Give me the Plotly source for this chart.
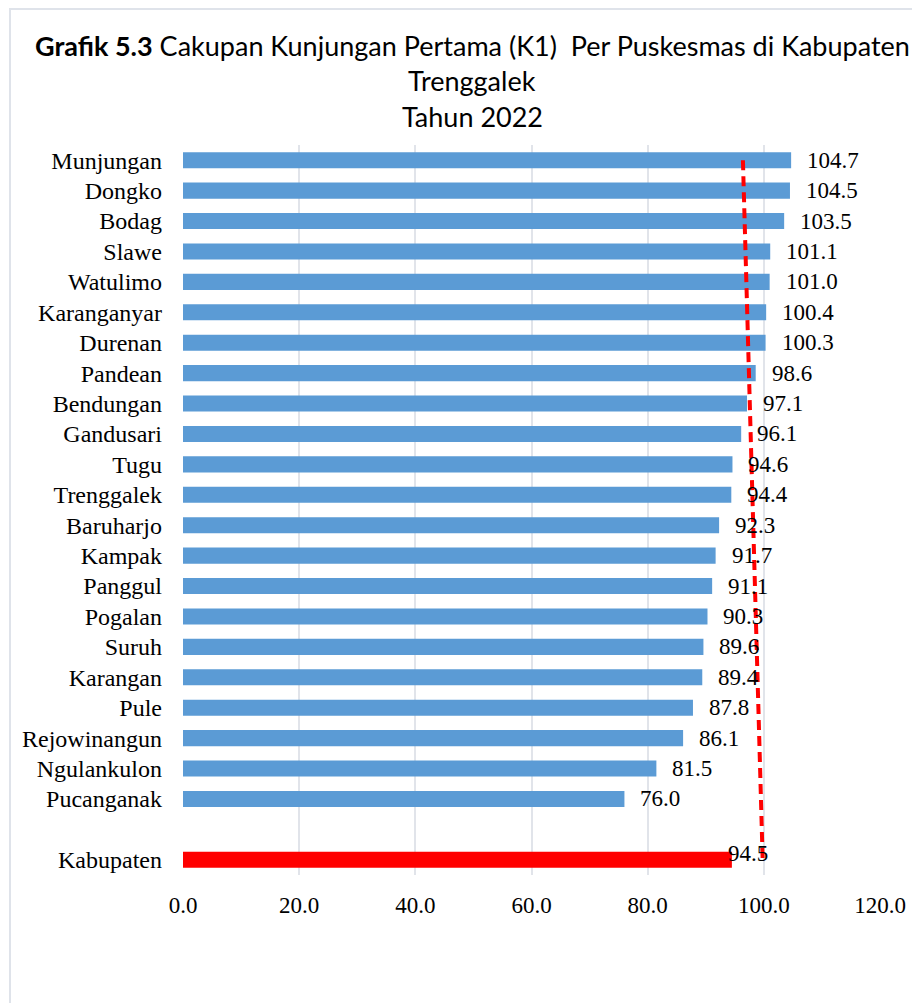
import plotly.graph_objects as go

puskesmas = ["Munjungan", "Dongko", "Bodag", "Slawe", "Watulimo", "Karanganyar",
             "Durenan", "Pandean", "Bendungan", "Gandusari", "Tugu", "Trenggalek",
             "Baruharjo", "Kampak", "Panggul", "Pogalan", "Suruh", "Karangan",
             "Pule", "Rejowinangun", "Ngulankulon", "Pucanganak"]
k1_values = [104.7, 104.5, 103.5, 101.1, 101.0, 100.4, 100.3, 98.6, 97.1, 96.1,
             94.6, 94.4, 92.3, 91.7, 91.1, 90.3, 89.6, 89.4, 87.8, 86.1, 81.5, 76.0]
kab_label = "Kabupaten"
kab_value = 94.5
gap_label = " "
ref_line_x = [96.4, 99.8]
x_ticks = [0, 20, 40, 60, 80, 100, 120]

cats = puskesmas + [gap_label, kab_label]
vals = k1_values + [None, kab_value]
colors = ["#5b9bd5"] * len(k1_values) + ["rgba(0,0,0,0)", "#ff0000"]

SERIF = "Liberation Serif, Times New Roman, serif"
OFF = 8  # page body margin
W, H = 920, 1003
L, T = 183 - OFF, 145 - OFF
pw, ph = 697, 730
R, B = W - L - pw, H - T - ph

fig = go.Figure()
fig.add_trace(go.Bar(
    y=cats, x=vals, orientation="h",
    marker=dict(color=colors, line=dict(width=0)),
    width=0.53, showlegend=False, hoverinfo="x+y",
))
fig.add_trace(go.Scatter(
    x=ref_line_x, y=[puskesmas[0], kab_label], mode="lines",
    line=dict(color="#ff0000", width=4, dash="10px,6px"),
    showlegend=False, hoverinfo="skip",
))

annotations = []
for c, v in zip(puskesmas, k1_values):
    annotations.append(dict(x=v, y=c, xref="x", yref="y", text=f"{v:.1f}",
                            showarrow=False, xanchor="left", xshift=14,
                            font=dict(family=SERIF, size=23, color="#000")))
annotations.append(dict(x=kab_value, y=kab_label, xref="x", yref="y",
                        text=f"{kab_value:.1f}", showarrow=False, xanchor="left",
                        xshift=-6, yshift=6,
                        font=dict(family=SERIF, size=23, color="#000")))

def py(p):
    return (T + ph - (p - OFF)) / ph

def px(p):
    return (p - OFF - L) / pw

title_font = dict(family="Lato, Noto Sans, sans-serif", size=27, color="#000")
for txt, yy in [("<b>Grafik 5.3</b> Cakupan Kunjungan Pertama (K1)  Per Puskesmas di Kabupaten", 46),
                ("Trenggalek", 80), ("Tahun 2022", 116)]:
    annotations.append(dict(x=px(472), y=py(yy), xref="paper", yref="paper", text=txt,
                            showarrow=False, xanchor="center", yanchor="middle",
                            font=title_font))

fig.update_layout(
    width=W, height=H,
    margin=dict(l=L, r=R, t=T, b=B),
    paper_bgcolor="white", plot_bgcolor="white",
    annotations=annotations,
    shapes=[dict(type="rect", xref="paper", yref="paper",
                 x0=px(10), x1=px(940), y0=py(1020), y1=py(9),
                 line=dict(color="#dfe3ea", width=2), fillcolor="rgba(0,0,0,0)",
                 layer="below")],
    bargap=0.47,
)
fig.update_xaxes(range=[0, 120], tickvals=x_ticks, ticktext=[f"{t:.1f}" for t in x_ticks],
                 showgrid=True, gridcolor="#e1e4ea", gridwidth=2,
                 zeroline=False, showline=False, ticks="",
                 ticklabelstandoff=14,
                 tickfont=dict(family=SERIF, size=23, color="#000"))
fig.update_yaxes(type="category", categoryorder="array", categoryarray=cats,
                 range=[len(cats) - 0.5, -0.5], showgrid=False, zeroline=False,
                 showline=False, ticks="", ticklabelstandoff=20,
                 tickfont=dict(family=SERIF, size=24, color="#000"))

fig.write_html("out.html")
